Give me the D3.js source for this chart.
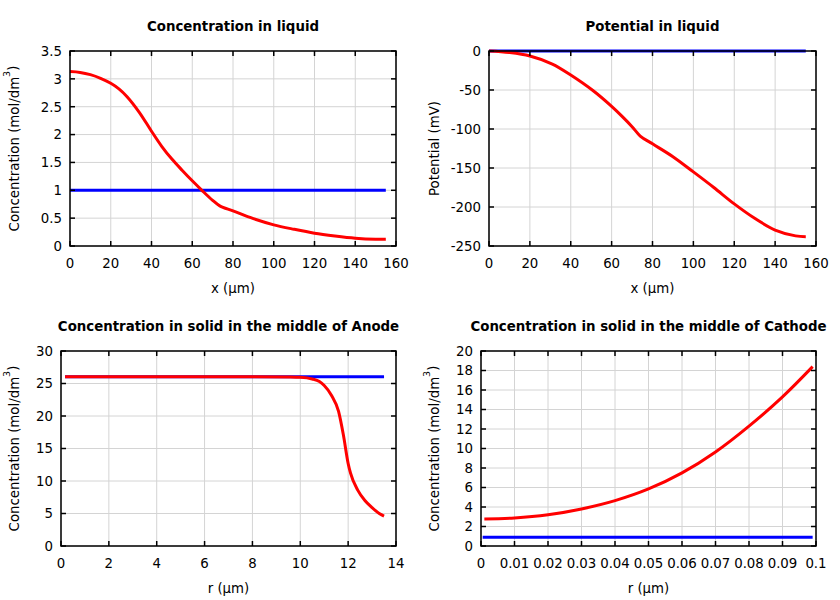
<!DOCTYPE html>
<html><head><meta charset="utf-8">
<script src="https://cdn.jsdelivr.net/npm/d3@7"></script>
<style>
body{margin:0;background:#fff;}
text{font-family:"DejaVu Sans",sans-serif;fill:#000;}
</style></head>
<body><svg id="c" width="840" height="600"></svg>
<script>
// ---- Data ----
// Panel 1: Concentration in liquid
const liqX      = [0, 5, 10, 15, 20, 24, 28, 34, 40, 45, 50, 55, 60, 65, 70, 73.5, 80, 90, 100, 110, 120, 130, 140, 150, 155];
const liqConc   = [3.13, 3.115, 3.075, 3.01, 2.92, 2.82, 2.68, 2.40, 2.06, 1.79, 1.56, 1.36, 1.17, 0.99, 0.82, 0.72, 0.63, 0.49, 0.38, 0.30, 0.23, 0.18, 0.14, 0.12, 0.12];
const liqConc0X = [0, 155];
const liqConc0  = [1.0, 1.0];
// Panel 2: Potential in liquid
const potX   = [0, 10, 20, 31, 40, 51, 60, 65, 70, 74, 80, 90, 100, 110, 120, 130, 140, 150, 155];
const pot    = [0, -2, -6.4, -16.7, -30.8, -51, -71, -83.5, -97, -109, -119, -135.5, -155, -175, -196, -214.5, -229.5, -237, -238];
const pot0X  = [0, 155];
const pot0   = [0, 0];
// Panel 3: Concentration in solid, Anode
const anR    = [0.17, 2, 4, 6, 8, 9.5, 10, 10.5, 10.8, 11.0, 11.3, 11.6, 11.8, 12.0, 12.1, 12.4, 12.7, 13.0, 13.3, 13.5];
const anC    = [26.05, 26.05, 26.05, 26.05, 26.05, 26.0, 25.95, 25.7, 25.3, 24.7, 23.2, 20.7, 17.1, 12.7, 11.2, 8.6, 7.0, 5.9, 5.0, 4.6];
const an0R   = [0.17, 13.5];
const an0C   = [26.05, 26.05];
// Panel 4: Concentration in solid, Cathode
const caR    = [0.001, 0.01, 0.02, 0.03, 0.04, 0.05, 0.06, 0.07, 0.08, 0.09, 0.099];
const caC    = [2.77, 2.87, 3.2, 3.8, 4.65, 5.85, 7.5, 9.65, 12.3, 15.3, 18.4];
const ca0R   = [0.0005, 0.099];
const ca0C   = [0.9, 0.9];

const titles = ["Concentration in liquid", "Potential in liquid",
                "Concentration in solid in the middle of Anode", "Concentration in solid in the middle of Cathode"];
const xLabels = ["x (µm)", "x (µm)", "r (µm)", "r (µm)"];

const svg = d3.select("#c");
const FS = 13.33;

function panel(cfg){
  const {left, right, top, bottom, xDom, yDom, xTicks, yTicks, xFmt, yFmt, title, xLabel, yLabelX, yLabel, series, curve} = cfg;
  const x = d3.scaleLinear().domain(xDom).range([left, right]);
  const y = d3.scaleLinear().domain(yDom).range([bottom, top]);
  const g = svg.append("g");
  // grid
  g.selectAll(".gx").data(xTicks).join("line")
    .attr("x1", d=>x(d)).attr("x2", d=>x(d)).attr("y1", top).attr("y2", bottom)
    .attr("stroke", "#d4d4d4").attr("stroke-width", 1);
  g.selectAll(".gy").data(yTicks).join("line")
    .attr("y1", d=>y(d)).attr("y2", d=>y(d)).attr("x1", left).attr("x2", right)
    .attr("stroke", "#d4d4d4").attr("stroke-width", 1);
  // series
  const line = d3.line().x(d=>x(d[0])).y(d=>y(d[1])).curve(curve);
  series.forEach(s=>{
    g.append("path").datum(s.xs.map((v,i)=>[v, s.ys[i]]))
      .attr("d", line).attr("fill","none").attr("stroke", s.color)
      .attr("stroke-width", 3);
  });
  // inward ticks on all sides
  const tl = 5;
  xTicks.forEach(t=>{
    g.append("line").attr("x1",x(t)).attr("x2",x(t)).attr("y1",bottom).attr("y2",bottom-tl).attr("stroke","#000").attr("stroke-width",1.5);
    g.append("line").attr("x1",x(t)).attr("x2",x(t)).attr("y1",top).attr("y2",top+tl).attr("stroke","#000").attr("stroke-width",1.5);
  });
  yTicks.forEach(t=>{
    g.append("line").attr("y1",y(t)).attr("y2",y(t)).attr("x1",left).attr("x2",left+tl).attr("stroke","#000").attr("stroke-width",1.5);
    g.append("line").attr("y1",y(t)).attr("y2",y(t)).attr("x1",right).attr("x2",right-tl).attr("stroke","#000").attr("stroke-width",1.5);
  });
  // border
  g.append("rect").attr("x",left).attr("y",top).attr("width",right-left).attr("height",bottom-top)
    .attr("fill","none").attr("stroke","#000").attr("stroke-width",1.5);
  // tick labels
  g.selectAll(".xl").data(xTicks).join("text")
    .attr("x", d=>x(d)).attr("y", bottom+22).attr("text-anchor","middle")
    .attr("font-size",FS).text(xFmt);
  g.selectAll(".yl").data(yTicks).join("text")
    .attr("x", left-8).attr("y", d=>y(d)+4.8).attr("text-anchor","end")
    .attr("font-size",FS).text(yFmt);
  // title
  g.append("text").attr("x",(left+right)/2).attr("y",top-20).attr("text-anchor","middle")
    .attr("font-size",FS).attr("font-weight","bold").text(title);
  // x label
  g.append("text").attr("x",(left+right)/2).attr("y",bottom+47).attr("text-anchor","middle")
    .attr("font-size",FS).text(xLabel);
  // y label
  const yl = g.append("text").attr("transform",`translate(${yLabelX},${(top+bottom)/2}) rotate(-90)`)
    .attr("text-anchor","middle").attr("dy","0.35em").attr("font-size",FS);
  if (yLabel === "conc") {
    yl.append("tspan").text("Concentration (mol/dm");
    yl.append("tspan").attr("font-size",9.5).attr("dy","-0.9em").text("3");
    yl.append("tspan").attr("dy","0.6em").text(")");
  } else {
    yl.text(yLabel);
  }
}

const blue = "#0000ff", red = "#ff0000";
const smooth = d3.curveCatmullRom.alpha(0.5);

panel({left:70,right:396,top:51,bottom:246,xDom:[0,160],yDom:[0,3.5],
  xTicks:d3.range(0,161,20), yTicks:[0,0.5,1,1.5,2,2.5,3,3.5], curve:smooth,
  xFmt:d=>String(d), yFmt:d=>String(d), title:titles[0], xLabel:xLabels[0], yLabelX:14, yLabel:"conc",
  series:[{xs:liqConc0X,ys:liqConc0,color:blue},{xs:liqX,ys:liqConc,color:red}]});

panel({left:489,right:816,top:51,bottom:246,xDom:[0,160],yDom:[-250,0],
  xTicks:d3.range(0,161,20), yTicks:[-250,-200,-150,-100,-50,0], curve:smooth,
  xFmt:d=>String(d), yFmt:d=>String(d), title:titles[1], xLabel:xLabels[1], yLabelX:434, yLabel:"Potential (mV)",
  series:[{xs:pot0X,ys:pot0,color:blue},{xs:potX,ys:pot,color:red}]});

panel({left:61,right:396,top:351,bottom:546,xDom:[0,14],yDom:[0,30],
  xTicks:d3.range(0,15,2), yTicks:d3.range(0,31,5), curve:d3.curveMonotoneX,
  xFmt:d=>String(d), yFmt:d=>String(d), title:titles[2], xLabel:xLabels[2], yLabelX:14, yLabel:"conc",
  series:[{xs:an0R,ys:an0C,color:blue},{xs:anR,ys:anC,color:red}]});

panel({left:481,right:816,top:351,bottom:546,xDom:[0,0.1],yDom:[0,20],
  xTicks:[0,0.01,0.02,0.03,0.04,0.05,0.06,0.07,0.08,0.09,0.1], yTicks:d3.range(0,21,2), curve:smooth,
  xFmt:d=>String(+d.toFixed(2)), yFmt:d=>String(d), title:titles[3], xLabel:xLabels[3], yLabelX:434, yLabel:"conc",
  series:[{xs:ca0R,ys:ca0C,color:blue},{xs:caR,ys:caC,color:red}]});
</script></body></html>
